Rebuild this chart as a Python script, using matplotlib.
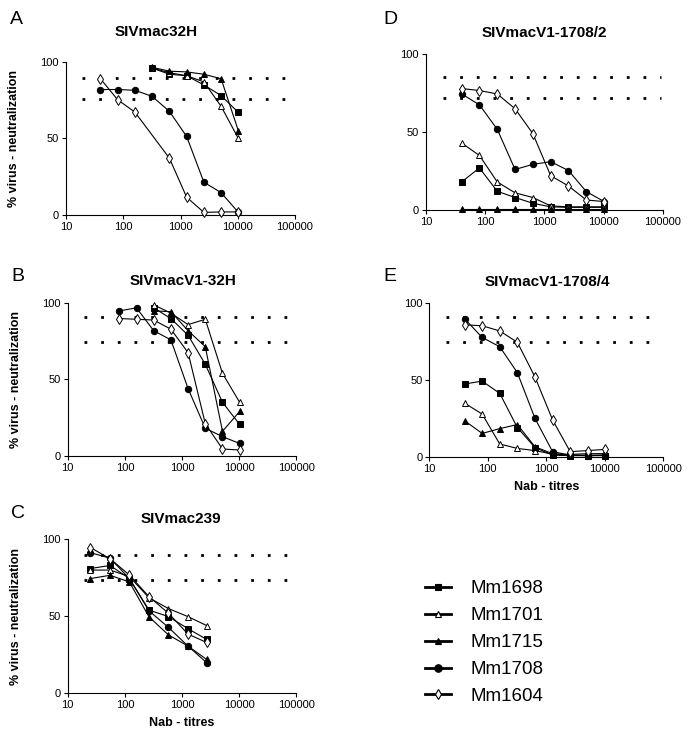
import numpy as np
import matplotlib
matplotlib.use("Agg")
import matplotlib.pyplot as plt
from matplotlib.lines import Line2D
from matplotlib.ticker import NullLocator

plt.rcParams['font.family'] = ['Liberation Sans', 'DejaVu Sans']

# animals / series
animals = ['Mm1698', 'Mm1701', 'Mm1715', 'Mm1708', 'Mm1604']

# Panel A - SIVmac32H
titres_a = [40, 80, 160, 320, 640, 1280, 2560, 5120, 10240]
a_mm1698 = [None, None, None, 96, 92, 91, 85, 78, 67]
a_mm1701 = [None, None, None, 96, 93, 91, 87, 71, 50]
a_mm1715 = [None, None, None, 96.5, 94, 93.5, 92, 89, 55]
a_mm1708 = [82, 82, 81.5, 77.5, 67.7, 51.3, 21.4, 14.6, 1.7]
a_mm1604 = [89, 75.3, 67.2, None, 37.1, 11.6, 1.7, 2, 2]
a_limits = [89.5, 75.5]

# Panel B - SIVmacV1-32H
titres_b = [80, 160, 320, 640, 1280, 2560, 5120, 10240]
b_mm1698 = [None, None, 97, 90, 79, 60, 35, 20.5]
b_mm1701 = [None, None, 99, 93.5, 86, 89.5, 54, 35]
b_mm1715 = [None, None, 95, 94.5, 82, 71.5, 16, 29]
b_mm1708 = [95, 97, 82, 76, 44, 18, 12.5, 8]
b_mm1604 = [90, 89.5, 89, 83, 67.6, 21, 4.4, 3.7]
b_limits = [91, 74.6]

# Panel C - SIVmac239
titres_c = [25, 55, 120, 265, 580, 1270, 2700]
c_mm1698 = [81, 83, 74.5, 54, 49.8, 42, 35]
c_mm1701 = [80, 80, 75.8, 62, 55, 49.8, 44]
c_mm1715 = [74.5, 76.6, 72.3, 49.6, 37.9, 30.7, 22]
c_mm1708 = [91.3, 87.7, 74.5, 53.5, 42.8, 30.7, 19.9]
c_mm1604 = [94.6, 87.4, 76.8, 62.7, 52, 38.5, 33]
c_limits = [89.8, 73.6]

# Panel D - SIVmacV1-1708/2
titres_d = [40, 80, 160, 320, 640, 1280, 2560, 5120, 10240]
d_mm1698 = [18, 27, 12, 8, 4.3, 2, 1.7, 1.7, 1.7]
d_mm1701 = [43, 35, 18, 11, 8, 2.6, 2, 2, 2]
d_mm1715 = [0.5, 0.5, 0.5, 0.5, 0.5, 0.5, 0.5, 0.5, 0.5]
d_mm1708 = [74.5, 67.5, 51.8, 26, 29.3, 31, 25.3, 11.8, 5.4]
d_mm1604 = [78, 76.7, 74.5, 65, 49, 22, 15.4, 6.4, 5.4]
d_limits = [85.2, 71.7]

# Panel E - SIVmacV1-1708/4
titres_e = [40, 80, 160, 320, 640, 1280, 2560, 5120, 10240]
e_mm1698 = [47.4, 49.3, 41.3, 19, 6, 1, 0.7, 0.7, 0.7]
e_mm1701 = [35, 27.8, 8.3, 5.4, 4, 1.7, 1.5, 2, 2]
e_mm1715 = [23.5, 15.2, 18.3, 21, 6.5, 2, 1, 1, 1]
e_mm1708 = [90, 77.8, 71.7, 54.8, 25, 3.3, 1, 0.7, 1]
e_mm1604 = [86, 85.4, 82, 74.6, 52, 24, 3.3, 4, 4.8]
e_limits = [91, 75]

xtick_vals = [10, 100, 1000, 10000, 100000]
xtick_labels = ['10', '100', '1000', '10000', '100000']

# marker styles per animal
styles = {
    'Mm1698': dict(marker='s', ms=4, mfc='black'),
    'Mm1701': dict(marker='^', ms=4, mfc='white'),
    'Mm1715': dict(marker='^', ms=4.2, mfc='black'),
    'Mm1708': dict(marker='o', ms=4.6, mfc='black'),
    'Mm1604': dict(marker='d', ms=4.6, mfc='white'),
}

fig = plt.figure(figsize=(6.89, 7.37), dpi=100)

panels = [
    ('A', 'SIVmac32H', [0.0958, 0.7083, 0.3324, 0.2076], titres_a,
     [a_mm1698, a_mm1701, a_mm1715, a_mm1708, a_mm1604], a_limits, True, False),
    ('B', 'SIVmacV1-32H', [0.0983, 0.3817, 0.3316, 0.2068], titres_b,
     [b_mm1698, b_mm1701, b_mm1715, b_mm1708, b_mm1604], b_limits, True, False),
    ('C', 'SIVmac239', [0.0983, 0.0593, 0.3316, 0.2090], titres_c,
     [c_mm1698, c_mm1701, c_mm1715, c_mm1708, c_mm1604], c_limits, True, True),
    ('D', 'SIVmacV1-1708/2', [0.6183, 0.7151, 0.3435, 0.2113], titres_d,
     [d_mm1698, d_mm1701, d_mm1715, d_mm1708, d_mm1604], d_limits, False, False),
    ('E', 'SIVmacV1-1708/4', [0.6231, 0.3803, 0.3396, 0.2081], titres_e,
     [e_mm1698, e_mm1701, e_mm1715, e_mm1708, e_mm1604], e_limits, False, True),
]

# letter and title positions (figure pixels)
letter_pos = {'A': (10, 19), 'B': (11, 277), 'C': (11, 514), 'D': (383, 19), 'E': (383, 276)}
title_pos = {'A': (156, 32), 'B': (183, 281), 'C': (181, 519), 'D': (544, 33), 'E': (547, 282)}

W, H = 689, 737

for letter, title, rect, titres, series, limits, ylab, xlab in panels:
    ax = fig.add_axes(rect)
    ax.set_xscale('log')
    ax.set_xlim(10, 100000)
    ax.set_ylim(0, 100)

    # dotted 90% / 75% reference lines
    for lv in limits:
        ax.plot([19, 95000], [lv, lv], color='black', lw=2.0,
                linestyle=(0, (1, 5.0)), dash_capstyle='butt')

    for name, vals in zip(animals, series):
        xs = [t for t, v in zip(titres, vals) if v is not None]
        ys = [v for v in vals if v is not None]
        st = styles[name]
        ax.plot(xs, ys, color='black', lw=0.8, marker=st['marker'], ms=st['ms'],
                mfc=st['mfc'], mec='black', mew=0.7, clip_on=False, zorder=3)

    ax.set_xticks(xtick_vals)
    ax.set_xticklabels(xtick_labels, fontsize=8)
    ax.xaxis.set_minor_locator(NullLocator())
    ax.set_yticks([0, 50, 100])
    ax.set_yticklabels(['0', '50', '100'], fontsize=8)
    ax.tick_params(direction='out', length=3, width=0.8, pad=2)
    for s in ['top', 'right']:
        ax.spines[s].set_visible(False)
    for s in ['left', 'bottom']:
        ax.spines[s].set_linewidth(0.8)

    if ylab:
        ax.set_ylabel('% virus - neutralization', fontsize=9, fontweight='bold')
        ax.yaxis.set_label_coords(-0.2, 0.5)
    if xlab:
        ax.set_xlabel('Nab - titres', fontsize=9, fontweight='bold', labelpad=5)

    lx, ly = letter_pos[letter]
    fig.text(lx / W, 1 - ly / H, letter, fontsize=14, ha='left', va='center')
    tx, ty = title_pos[letter]
    fig.text(tx / W, 1 - ty / H, title, fontsize=11, fontweight='bold',
             ha='center', va='center')

# legend
handles = []
for name in animals:
    st = styles[name]
    handles.append(Line2D([], [], color='black', lw=2, marker=st['marker'],
                          ms=st['ms'] + 0.8, mfc=st['mfc'], mec='black', mew=0.8))
fig.legend(handles, animals, loc='center left', bbox_to_anchor=(425 / W, 0.128),
           frameon=False, fontsize=13.5, numpoints=1, handlelength=1.4,
           handletextpad=1.0, labelspacing=0.52, borderpad=0, borderaxespad=0)

fig.savefig('out.png', dpi=100)
